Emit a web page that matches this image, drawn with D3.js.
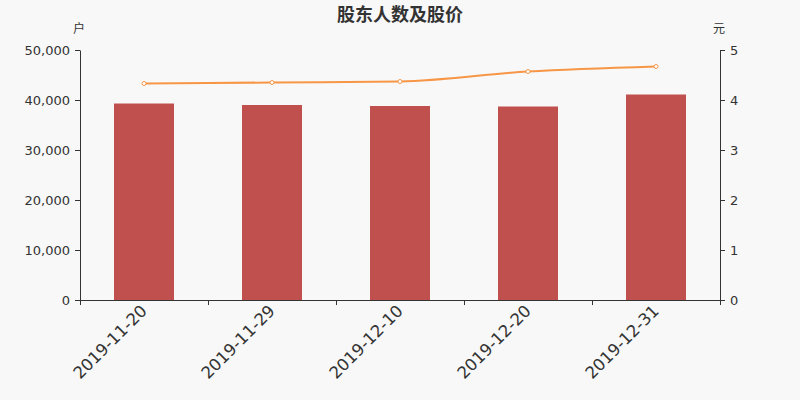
<!DOCTYPE html>
<html><head><meta charset="utf-8">
<script src="https://cdn.jsdelivr.net/npm/d3@7"></script>
<style>body{margin:0;background:#f8f8f8;}svg{display:block;font-family:"DejaVu Sans","Noto Sans CJK SC",sans-serif;}</style>
</head><body><svg id="c" width="800" height="400"></svg>
<script>
const categories = ["2019-11-20","2019-11-29","2019-12-10","2019-12-20","2019-12-31"];
const holders = [39300, 39000, 38800, 38700, 41100];
const prices = [4.33, 4.35, 4.37, 4.57, 4.67];
const leftTicks = [0,10000,20000,30000,40000,50000];
const rightTicks = [0,1,2,3,4,5];

const svg = d3.select("#c");
svg.append("rect").attr("width",800).attr("height",400).attr("fill","#f8f8f8");
const L=80,R=720,T=50,B=300;
const x = d3.scaleBand().domain(categories).range([L,R]);
const yL = d3.scaleLinear().domain([0,50000]).range([B,T]);
const yR = d3.scaleLinear().domain([0,5]).range([B,T]);

svg.append("text").attr("x",400).attr("y",21).attr("text-anchor","middle")
  .attr("font-size",18).attr("font-weight","bold").attr("fill","#333")
  .attr("font-family","'Noto Sans CJK SC',sans-serif").text("股东人数及股价");
svg.append("text").attr("x",79).attr("y",33).attr("text-anchor","middle").attr("font-size",12).attr("fill","#333")
  .attr("font-family","'Noto Sans CJK SC',sans-serif").text("户");
svg.append("text").attr("x",719).attr("y",33).attr("text-anchor","middle").attr("font-size",12).attr("fill","#333")
  .attr("font-family","'Noto Sans CJK SC',sans-serif").text("元");

svg.append("g").selectAll("rect").data(holders).join("rect")
  .attr("x",(d,i)=>x(categories[i])+x.bandwidth()/2-30).attr("width",60)
  .attr("y",d=>yL(d)).attr("height",d=>B-yL(d)).attr("fill","#c0504d");

const styleAxis = g => { g.selectAll("path,line").attr("stroke","#333"); g.selectAll("text").attr("fill","#333").attr("font-family","'DejaVu Sans',sans-serif"); };

svg.append("g").attr("transform",`translate(${L},0)`)
  .call(d3.axisLeft(yL).tickValues(leftTicks).tickFormat(d3.format(",")).tickSize(5).tickSizeOuter(0))
  .call(g=>g.selectAll("text").attr("font-size",13).attr("dx",-2)).call(styleAxis);
svg.append("g").attr("transform",`translate(${R},0)`)
  .call(d3.axisRight(yR).tickValues(rightTicks).tickFormat(d3.format("d")).tickSize(5).tickSizeOuter(0))
  .call(g=>g.selectAll("text").attr("font-size",13).attr("dx",2)).call(styleAxis);

svg.append("g").attr("transform",`translate(0,${B})`)
  .call(d3.axisBottom(d3.scaleLinear().domain([0,5]).range([L,R])).tickValues([0,1,2,3,4,5]).tickFormat("").tickSize(5).tickSizeOuter(0))
  .call(styleAxis);
svg.append("g").selectAll("text").data(categories).join("text")
  .attr("transform",d=>`translate(${x(d)+x.bandwidth()/2+4},${B+12}) rotate(-45)`)
  .attr("text-anchor","end").attr("font-size",16.5).attr("fill","#333").text(d=>d);

const line = d3.line().x((d,i)=>x(categories[i])+x.bandwidth()/2).y(d=>yR(d)).curve(d3.curveMonotoneX);
svg.append("path").datum(prices).attr("d",line).attr("fill","none").attr("stroke","#f79646").attr("stroke-width",2);
svg.append("g").selectAll("circle").data(prices).join("circle")
  .attr("cx",(d,i)=>x(categories[i])+x.bandwidth()/2).attr("cy",d=>yR(d)).attr("r",2)
  .attr("fill","#fff").attr("stroke","#f79646").attr("stroke-width",1);
</script></body></html>
